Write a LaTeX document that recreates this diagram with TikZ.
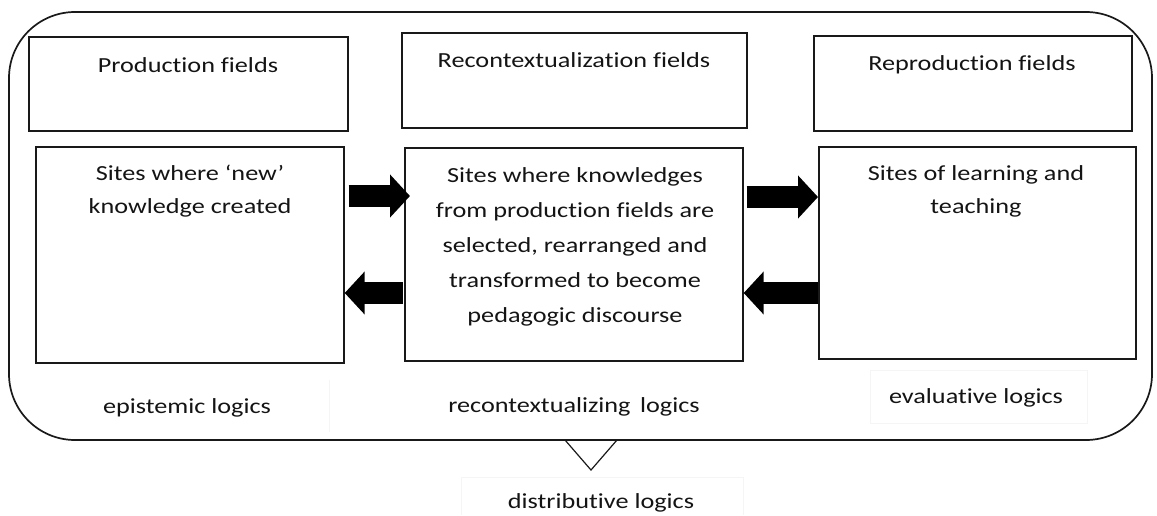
\documentclass[tikz,border=0pt]{standalone}
\usepackage{fontspec}
\usetikzlibrary{arrows.meta}
\newfontfamily\labelfont{Carlito}[FakeStretch=1.22, Ligatures=NoCommon]
\newcommand{\linesof}[2]{\parbox[t]{#1}{\centering #2}}
\tikzset{
  x=1pt, y=-1pt,
  frame/.style={draw=black!90, line width=1.7pt},
  box/.style={frame, rectangle, inner sep=0pt, anchor=north west},
  txt/.style={anchor=base, inner sep=0pt, text=black!92,
    font=\labelfont\fontsize{21.5}{33}\selectfont},
  midtxt/.style={txt, font=\labelfont\fontsize{21.5}{35}\selectfont},
  blockarrow/.style={line width=22pt, draw=black,
    -{Triangle[length=20pt, width=42pt]}},
  faint/.style={draw=black!4, line width=0.8pt}
}
\begin{document}
\begin{tikzpicture}
\useasboundingbox (0,0) rectangle (1157,515);
% enclosing field
\draw[frame, rounded corners=66pt] (9,12) rectangle (1152,440);
% faint text-box outlines around the logic labels
\draw[faint] (329,380) -- (329,432);
\draw[faint] (870,370) rectangle (1087,423);
\draw[faint] (461,515) -- (461,477) -- (743,477) -- (743,515);
% field headers
\node[box, minimum width=319pt, minimum height=94pt] (pf) at (28,36) {};
\node[box, minimum width=345pt, minimum height=95pt] (rf) at (401,32) {};
\node[box, minimum width=318pt, minimum height=95pt] (qf) at (813,35) {};
\node[txt] (pft) at (188,72) {Production fields};
\node[txt] (rft) at (574,67) {Recontextualization fields};
\node[txt] (qft) at (972,70) {Reproduction fields};
% sites
\node[box, minimum width=308pt, minimum height=216pt] (ps) at (35,146) {};
\node[box, minimum width=338pt, minimum height=213pt] (rs) at (404,147) {};
\node[box, minimum width=317pt, minimum height=212pt] (qs) at (818,146) {};
\node[txt] (pst) at (190,180) {\linesof{300pt}{Sites where ‘new’\\knowledge created}};
\node[midtxt] (rst) at (575,182) {\linesof{330pt}{Sites where knowledges\\from production fields are\\selected, rearranged and\\transformed to become\\pedagogic discourse}};
\node[txt] (qst) at (976,180) {\linesof{300pt}{Sites of learning and\\teaching}};
% flows between the sites
\draw[blockarrow] ([xshift=4pt]ps.east |- 0,196) -- ([xshift=6pt]rs.west |- 0,196);
\draw[blockarrow] ([xshift=3pt]rs.east |- 0,197) -- (qs.west |- 0,197);
\draw[blockarrow] ([xshift=-1pt]rs.west |- 0,293) -- (ps.east |- 0,293);
\draw[blockarrow] (qs.west |- 0,293) -- (rs.east |- 0,293);
% logics
\node[txt] (pl) at (187,413) {epistemic logics};
\node[txt] (rl) at (574,412) {recontextualizing\, logics};
\node[txt] (ql) at (976,403) {evaluative logics};
\node[txt] (dl) at (601,508) {distributive logics};
% distribution marker
\draw[frame, line width=1.2pt, line join=miter, fill=white] (565,440) -- (591,470) -- (617,440) -- cycle;
\draw[frame] (565,440) -- (617,440);
\end{tikzpicture}
\end{document}
